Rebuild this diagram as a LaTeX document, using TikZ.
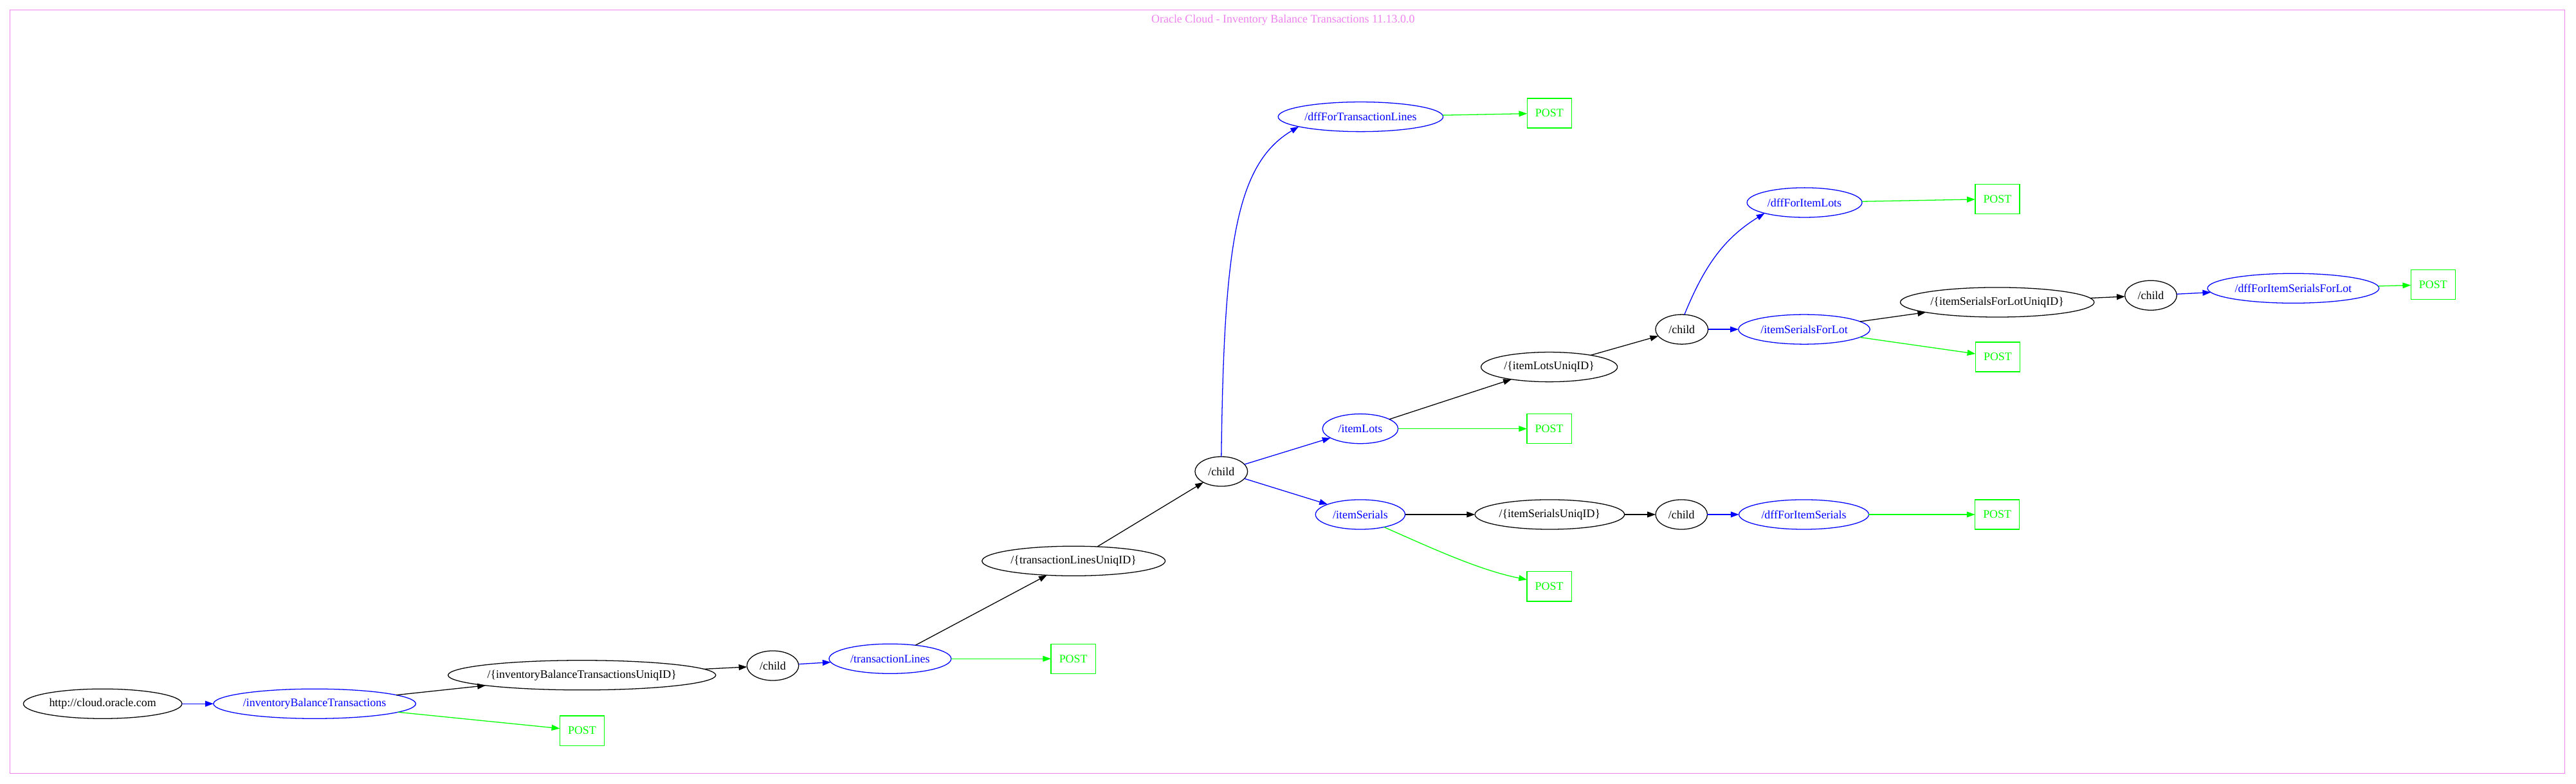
\documentclass[tikz,border=0pt]{standalone}
\usepackage{fontspec}
\setmainfont{Liberation Serif}
\usetikzlibrary{arrows.meta,shapes.geometric}
\definecolor{gvviolet}{RGB}{238,130,238}
\definecolor{gvblue}{RGB}{0,0,255}
\definecolor{gvgreen}{RGB}{0,255,0}
\begin{document}
\begin{tikzpicture}[x=1.995pt,y=-1.995pt,
  every node/.style={font=\fontsize{14}{16}\selectfont, inner sep=0pt, outer sep=0pt},
  bnode/.style={ellipse, draw=black, line width=1pt, minimum height=36pt, minimum width=#1*1.995pt},
  blnode/.style={ellipse, draw=gvblue, text=gvblue, line width=1pt, minimum height=36pt, minimum width=#1*1.995pt},
  postbox/.style={rectangle, draw=gvgreen, text=gvgreen, line width=1pt, minimum width=54pt, minimum height=36pt},
  edgeK/.style={draw=black, line width=1pt, -{Triangle[length=10pt,width=7pt]}},
  edgeB/.style={draw=gvblue, line width=1pt, -{Triangle[length=10pt,width=7pt]}},
  edgeG/.style={draw=gvgreen, line width=1pt, -{Triangle[length=10pt,width=7pt]}}
]
\useasboundingbox (0,0) rectangle (1568,477.25);
\draw[gvviolet, line width=1pt] (6,6.1) rectangle (1561,470.7);
\node[text=gvviolet] (title) at (781,12.4) {Oracle Cloud - Inventory Balance Transactions 11.13.0.0};

\node[bnode=96.5] (http) at (62.5,428.4) {http://cloud.oracle.com};
\node[blnode=123] (iBT) at (191.5,428.4) {/inventoryBalanceTransactions};
\node[bnode=162] (iBTU) at (354.2,411) {/\{inventoryBalanceTransactionsUniqID\}};
\node[postbox] (P1) at (354.3,444.8) {POST};
\node[bnode=31.5] (c1) at (470.4,405.2) {/child};
\node[blnode=74.3] (tL) at (541.8,401) {/transactionLines};
\node[postbox] (P2) at (653.3,401) {POST};
\node[bnode=111.5] (tLU) at (653.5,341.5) {/\{transactionLinesUniqID\}};
\node[bnode=32] (c2) at (743.4,287) {/child};
\node[blnode=100.4] (dffTL) at (828.2,71.1) {/dffForTransactionLines};
\node[postbox] (P3) at (943.1,68.9) {POST};
\node[blnode=46] (iL) at (828,261) {/itemLots};
\node[postbox] (P4) at (943,261) {POST};
\node[blnode=54.5] (iS) at (828,313.2) {/itemSerials};
\node[bnode=91] (iSU) at (943.3,313.2) {/\{itemSerialsUniqID\}};
\node[postbox] (P5) at (943,357) {POST};
\node[bnode=31.5] (c3) at (1023.5,313.2) {/child};
\node[blnode=79] (dffIS) at (1098,313.2) {/dffForItemSerials};
\node[postbox] (P6) at (1215.7,313.2) {POST};
\node[bnode=83] (iLU) at (943,223.4) {/\{itemLotsUniqID\}};
\node[bnode=32] (c4) at (1023.7,200.5) {/child};
\node[blnode=70] (dffIL) at (1098.4,123.3) {/dffForItemLots};
\node[postbox] (P7) at (1215.8,121.1) {POST};
\node[blnode=80] (iSFL) at (1098.2,200.5) {/itemSerialsForLot};
\node[postbox] (P8) at (1216,217.3) {POST};
\node[bnode=118] (iSFLU) at (1215.7,184) {/\{itemSerialsForLotUniqID\}};
\node[bnode=31.6] (c5) at (1309.2,179.8) {/child};
\node[blnode=104.4] (dffISFL) at (1395.9,175.5) {/dffForItemSerialsForLot};
\node[postbox] (P9) at (1481,173.3) {POST};

\draw[edgeB] (http) -- (iBT);
\draw[edgeK] (iBT) -- (iBTU);
\draw[edgeG] (iBT) -- (P1);
\draw[edgeK] (iBTU) -- (c1);
\draw[edgeB] (c1) -- (tL);
\draw[edgeK] (tL) -- (tLU);
\draw[edgeG] (tL) -- (P2);
\draw[edgeK] (tLU) -- (c2);
\draw[edgeB] (c2.north) .. controls (745,150) and (752,100) .. (dffTL.189);
\draw[edgeB] (c2) -- (iL);
\draw[edgeB] (c2) -- (iS);
\draw[edgeG] (dffTL) -- (P3);
\draw[edgeK] (iL) -- (iLU);
\draw[edgeG] (iL) -- (P4);
\draw[edgeK] (iS) -- (iSU);
\draw[edgeG] (iS.-28) .. controls (870,333) and (900,347) .. (P5.163);
\draw[edgeK] (iSU) -- (c3);
\draw[edgeB] (c3) -- (dffIS);
\draw[edgeG] (dffIS) -- (P6);
\draw[edgeK] (iLU) -- (c4);
\draw[edgeB] (c4.80) .. controls (1037,163) and (1048.6,145.5) .. (dffIL.195);
\draw[edgeB] (c4) -- (iSFL);
\draw[edgeG] (dffIL) -- (P7);
\draw[edgeK] (iSFL) -- (iSFLU);
\draw[edgeG] (iSFL) -- (P8);
\draw[edgeK] (iSFLU) -- (c5);
\draw[edgeB] (c5) -- (dffISFL);
\draw[edgeG] (dffISFL) -- (P9);
\end{tikzpicture}
\end{document}
